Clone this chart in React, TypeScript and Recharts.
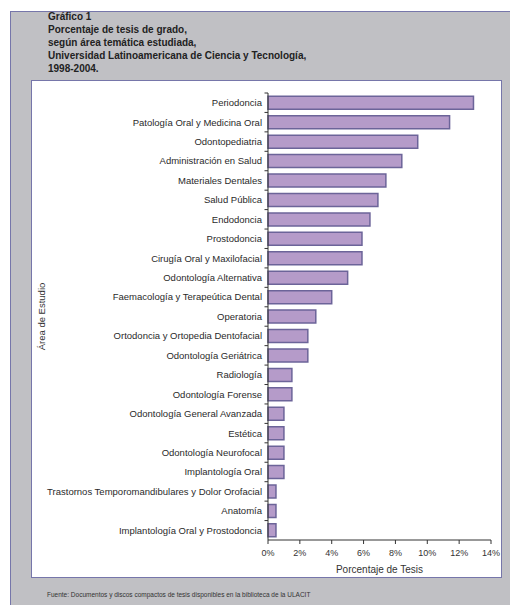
import React from "react";
import { BarChart, Bar, XAxis, YAxis } from "recharts";

const titleLines = [
  "Gráfico 1",
  "Porcentaje de tesis de grado,",
  "según área temática estudiada,",
  "Universidad Latinoamericana de Ciencia y Tecnología,",
  "1998-2004.",
];

const sourceNote =
  "Fuente: Documentos y discos compactos de tesis disponibles en la biblioteca de la ULACIT";

const categories = [
  "Periodoncia",
  "Patología Oral y Medicina Oral",
  "Odontopediatria",
  "Administración en Salud",
  "Materiales Dentales",
  "Salud Pública",
  "Endodoncia",
  "Prostodoncia",
  "Cirugía Oral y Maxilofacial",
  "Odontología Alternativa",
  "Faemacología y Terapeútica Dental",
  "Operatoria",
  "Ortodoncia y Ortopedia Dentofacial",
  "Odontología Geriátrica",
  "Radiología",
  "Odontología Forense",
  "Odontología General Avanzada",
  "Estética",
  "Odontología Neurofocal",
  "Implantología Oral",
  "Trastornos Temporomandibulares y Dolor Orofacial",
  "Anatomía",
  "Implantología Oral y Prostodoncia",
];

const percentages = [
  12.9, 11.4, 9.4, 8.4, 7.4, 6.9, 6.4, 5.9, 5.9, 5.0, 4.0, 3.0, 2.5, 2.5, 1.5,
  1.5, 1.0, 1.0, 1.0, 1.0, 0.5, 0.5, 0.5,
];

const xTicks = [0, 2, 4, 6, 8, 10, 12, 14];

const xAxisTitle = "Porcentaje de Tesis";
const yAxisTitle = "Área de Estudio";

const data = categories.map((area, i) => ({ area, value: percentages[i] }));

const FONT = '"Liberation Sans", Arial, Helvetica, sans-serif';
const CHART_W = 471;
const CHART_H = 498;
const MARGIN = { top: 13, right: 11, left: 0, bottom: 0 };
const X_AXIS_H = 38;
const Y_AXIS_W = 237;
const Y_TICK_MARGIN = 6;
const PLOT_H = CHART_H - MARGIN.top - MARGIN.bottom - X_AXIS_H;
const BAND = PLOT_H / categories.length;

const YTick = (props: any) => {
  const { x, y, payload } = props;
  const axisX = x + Y_TICK_MARGIN;
  const boundary = y - BAND / 2;
  return (
    <g>
      <text
        x={x}
        y={y}
        dy="0.36em"
        textAnchor="end"
        fontSize={9.5}
        fontFamily={FONT}
        fill="#2a2a2a"
      >
        {payload.value}
      </text>
      <line x1={axisX - 3.5} x2={axisX} y1={boundary} y2={boundary} stroke="#333" strokeWidth={1} />
    </g>
  );
};

export default function App() {
  return (
    <div
      style={{
        position: "absolute",
        left: 0,
        top: 0,
        width: 510,
        height: 605,
        background: "#ffffff",
        fontFamily: FONT,
        overflow: "hidden",
      }}
    >
      <div
        style={{
          position: "absolute",
          left: 10,
          top: 11,
          width: 500,
          height: 594,
          background: "#c0c0c4",
          borderLeft: "1.5px solid #7676aa",
          borderTop: "1.5px solid #7676aa",
        }}
      />
      <div
        style={{
          position: "absolute",
          left: 48,
          top: 10,
          fontSize: 10,
          fontWeight: "bold",
          lineHeight: "13px",
          color: "#222",
          whiteSpace: "nowrap",
        }}
      >
        {titleLines.map((t, i) => (
          <div key={i}>{t}</div>
        ))}
      </div>
      <div
        style={{
          position: "absolute",
          left: 31,
          top: 80,
          width: 469,
          height: 496,
          background: "#ffffff",
          border: "1.5px solid #7676aa",
        }}
      />
      <div style={{ position: "absolute", left: 31, top: 80 }}>
        <BarChart
          width={CHART_W}
          height={CHART_H}
          data={data}
          layout="vertical"
          margin={MARGIN}
          barCategoryGap="17%"
        >
          <XAxis
            type="number"
            domain={[0, 14]}
            ticks={xTicks}
            tickFormatter={(v: number) => `${v}%`}
            height={X_AXIS_H}
            tickSize={4}
            tickMargin={6}
            axisLine={{ stroke: "#333" }}
            tickLine={{ stroke: "#333" }}
            tick={{ fontSize: 9, fill: "#333", fontFamily: FONT }}
            interval={0}
            label={{
              value: xAxisTitle,
              position: "insideBottom",
              offset: 5,
              fontSize: 10,
              fill: "#333",
              fontFamily: FONT,
            }}
          />
          <YAxis
            type="category"
            dataKey="area"
            width={Y_AXIS_W}
            tickSize={0}
            tickMargin={Y_TICK_MARGIN}
            interval={0}
            axisLine={{ stroke: "#333" }}
            tickLine={false}
            tick={<YTick />}
            label={{
              value: yAxisTitle,
              angle: -90,
              position: "insideLeft",
              offset: 11,
              fontSize: 9.5,
              fill: "#333",
              fontFamily: FONT,
              style: { textAnchor: "middle" },
            }}
          />
          <Bar
            dataKey="value"
            fill="#b59bc9"
            stroke="#6c6499"
            strokeWidth={1.5}
            isAnimationActive={false}
          />
        </BarChart>
      </div>
      <div
        style={{
          position: "absolute",
          left: 47,
          top: 591,
          fontSize: 6.5,
          color: "#333",
          whiteSpace: "nowrap",
        }}
      >
        {sourceNote}
      </div>
    </div>
  );
}
